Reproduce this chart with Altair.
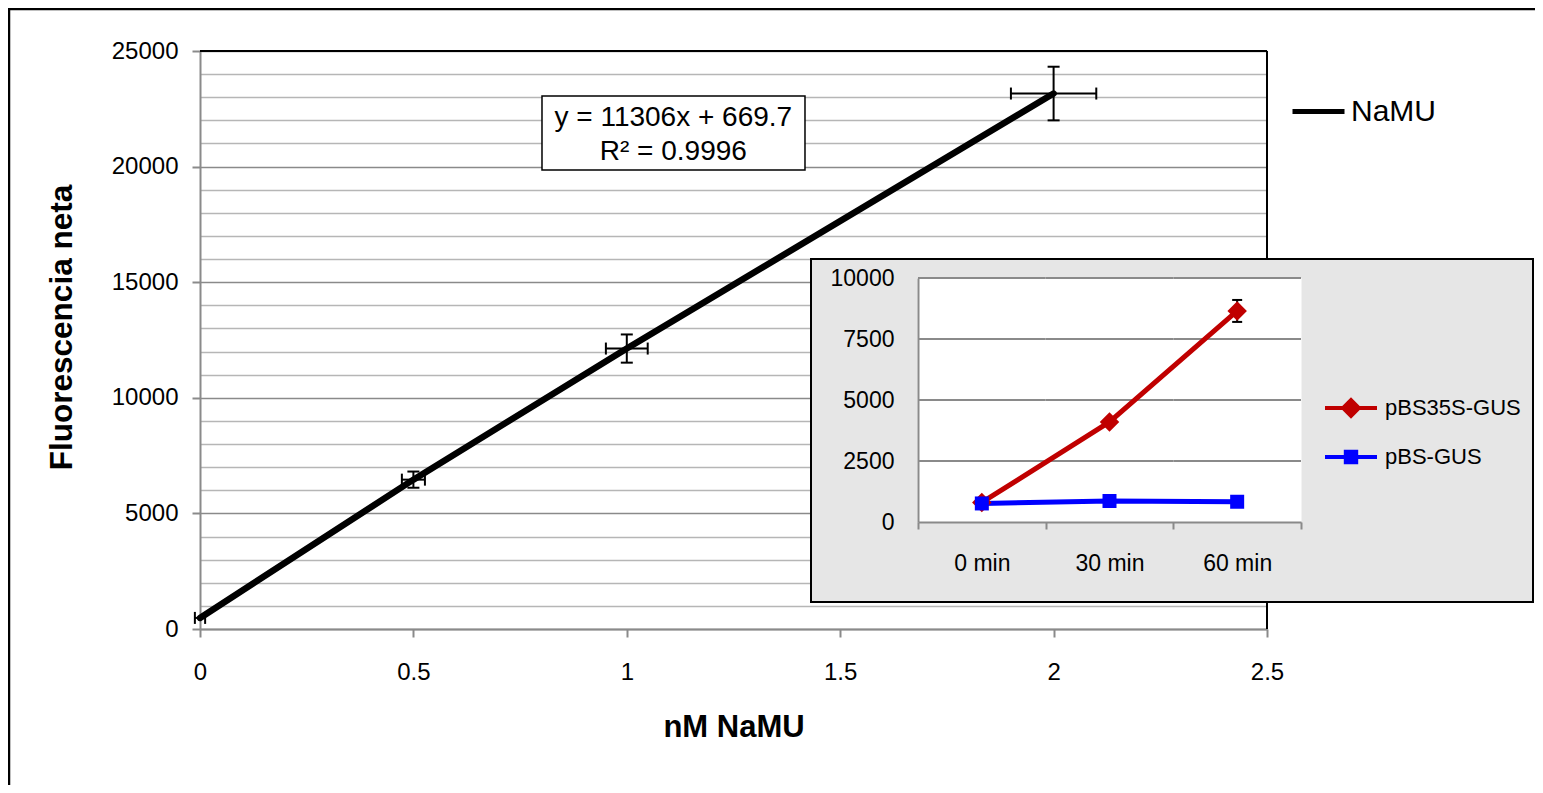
import altair as alt
import pandas as pd
import itertools

FONT = "Liberation Sans"
RED = "#c00000"
BLUE = "#0000ff"
GRID_MINOR = "#b6b6b6"
GRID_MAJOR = "#8a8a8a"

# ---------------- data: main chart ----------------
nm = [0.0, 0.5, 1.0, 2.0]
fluorescence = [480, 6460, 12130, 23160]
fluorescence_err = [0, 350, 610, 1160]
nm_err = [0.012, 0.027, 0.049, 0.10]
main_series = "NaMU"
equation = "y = 11306x + 669.7"
r_squared = "R² = 0.9996"
x_ticks = [0, 0.5, 1, 1.5, 2, 2.5]
y_grid = list(range(0, 25001, 1000))

# ---------------- data: inset ----------------
times = ["0 min", "30 min", "60 min"]
series_names = ["pBS35S-GUS", "pBS-GUS"]
pbs35s = [800, 4100, 8650]
pbs35s_err = [0, 0, 450]
pbs = [760, 860, 830]
pbs_err = [0, 0, 0]
inset_ticks = [0, 2500, 5000, 7500, 10000]
inset_grid = [2500, 5000, 7500, 10000]

# ---------------- tables ----------------
main_df = pd.DataFrame({"nm": nm, "fluo": fluorescence,
                        "ferr": fluorescence_err, "xerr": nm_err})
main_df["ylo"] = main_df.fluo - main_df.ferr
main_df["yhi"] = main_df.fluo + main_df.ferr
main_df["xlo"] = main_df.nm - main_df.xerr
main_df["xhi"] = main_df.nm + main_df.xerr
main_df["series"] = main_series

rows = []
for name, vals, errs in [(series_names[0], pbs35s, pbs35s_err),
                         (series_names[1], pbs, pbs_err)]:
    for t, v, e in zip(times, vals, errs):
        rows.append(dict(time=t, series=name, value=v, err=e, lo=v - e, hi=v + e))
inset_df = pd.DataFrame(rows)
grid_df = pd.DataFrame(list(itertools.product(times, inset_grid)), columns=["time", "g"])
one = pd.DataFrame({"k": [0]})

# ---------------- scales ----------------
XS = alt.Scale(domain=[0, 2.5], nice=False, zero=False)
YS = alt.Scale(domain=[0, 25000], nice=False)
IXS = alt.Scale(domain=times, range=[718, 1101], paddingInner=0, paddingOuter=0)
IYS = alt.Scale(domain=[0, 10000], range=[471, 227], nice=False)

major = "datum.value % 5000 === 0"
x_axis = alt.Axis(values=x_ticks, format="~g", title="nM NaMU", labelFont=FONT,
                  labelFontSize=24, labelColor="black", labelPadding=35,
                  labelBaseline="middle", labelFlush=False, tickSize=8, tickWidth=2,
                  tickColor=GRID_MAJOR, domainColor=GRID_MAJOR, domainWidth=2, grid=False,
                  titleFont=FONT, titleFontSize=31, titleFontWeight="bold",
                  titleColor="black", titleY=98, titleBaseline="middle")
y_axis = alt.Axis(values=y_grid, format="d",
                  labelExpr=f"{major} ? datum.label : ''", labelOverlap=False,
                  labelFont=FONT, labelFontSize=24, labelColor="black", labelPadding=14,
                  tickSize=8, tickWidth=2, tickColor=GRID_MAJOR,
                  tickOpacity={"condition": {"test": major, "value": 1}, "value": 0},
                  grid=True, gridWidth=1.5,
                  gridColor={"condition": {"test": major, "value": GRID_MAJOR}, "value": GRID_MINOR},
                  domainColor=GRID_MAJOR, domainWidth=2,
                  title="Fluorescencia neta", titleFont=FONT, titleFontSize=31.5,
                  titleFontWeight="bold", titleColor="black", titleX=-138, titleY=276,
                  titleAngle=270, titleAlign="center", titleBaseline="middle")

ix_axis = alt.Axis(orient="bottom", offset=-107, title=None, labelFont=FONT,
                   labelFontSize=23, labelColor="black", labelPadding=34,
                   labelBaseline="middle", labelAngle=0, tickBand="extent", tickSize=7,
                   tickWidth=2, tickColor=GRID_MAJOR, domainColor=GRID_MAJOR,
                   domainWidth=2, grid=False, zindex=1)
iy_axis = alt.Axis(orient="left", offset=-718, title=None, values=inset_ticks, format="d",
                   labelFont=FONT, labelFontSize=23, labelColor="black", labelPadding=24,
                   ticks=False, domainColor=GRID_MAJOR, domainWidth=2, grid=False,
                   zindex=1, labelOverlap=False)

# every layer carries the same axis definitions so they merge cleanly
X = lambda f: alt.X(f, scale=XS, axis=x_axis, title="nM NaMU")
Y = lambda f: alt.Y(f, scale=YS, axis=y_axis, title="Fluorescencia neta")
XD = lambda v: alt.X(datum=v, scale=XS, axis=x_axis, title="nM NaMU")
YD = lambda v: alt.Y(datum=v, scale=YS, axis=y_axis, title="Fluorescencia neta")

# ---------------- main chart ----------------
base = alt.Chart(main_df)

line = base.mark_line(strokeWidth=6.5, strokeCap="round", strokeJoin="round").encode(
    x=X("nm:Q"), y=Y("fluo:Q"),
    stroke=alt.Stroke("series:N", scale=alt.Scale(domain=[main_series], range=["black"]),
                      legend=alt.Legend(orient="none", legendX=1090, legendY=32, title=None,
                                        symbolType="stroke", symbolSize=2704,
                                        symbolStrokeWidth=5, labelFont=FONT,
                                        labelFontSize=30, labelColor="black",
                                        labelOffset=4, padding=0)))
vbar = base.transform_filter("datum.ferr > 0").mark_rule(strokeWidth=2, color="black").encode(
    x=X("nm:Q"), y=Y("ylo:Q"), y2="yhi:Q")
vcap = base.transform_filter("datum.ferr > 0").transform_fold(
    ["ylo", "yhi"], as_=["k", "capy"]).mark_tick(
    orient="horizontal", size=12, thickness=2, color="black", opacity=1).encode(
    x=X("nm:Q"), y=Y("capy:Q"))
hbar = base.mark_rule(strokeWidth=2, color="black").encode(
    x=X("xlo:Q"), x2="xhi:Q", y=Y("fluo:Q"))
hcap = base.transform_fold(["xlo", "xhi"], as_=["k", "capx"]).mark_tick(
    orient="vertical", size=12, thickness=2, color="black", opacity=1).encode(
    x=X("capx:Q"), y=Y("fluo:Q"))

top_border = alt.Chart(one).mark_rule(color="black", strokeWidth=2).encode(
    x=XD(0), x2=alt.X2(datum=2.5), y=YD(25000))
right_border = alt.Chart(one).mark_rule(color="black", strokeWidth=2).encode(
    x=XD(2.5), y=YD(0), y2=alt.Y2(datum=25000))

eq_box = alt.Chart(one).mark_rect(fill="white", stroke="black", strokeWidth=1.5).encode(
    x=XD(0.8013), x2=alt.X2(datum=1.4175), y=YD(23053), y2=alt.Y2(datum=19853))
eq_txt1 = alt.Chart(one).mark_text(text=equation, font=FONT, fontSize=28, color="black",
                                   align="center", baseline="middle").encode(
    x=XD(1.109), y=YD(22102))
eq_txt2 = alt.Chart(one).mark_text(text=r_squared, font=FONT, fontSize=28, color="black",
                                   align="center", baseline="middle").encode(
    x=XD(1.109), y=YD(20631))

frame_left = alt.Chart(one).mark_rule(color="black", strokeWidth=2.5).encode(
    x=alt.value(-191), y=alt.value(-44), y2=alt.value(800))
frame_top = alt.Chart(one).mark_rule(color="black", strokeWidth=2.5).encode(
    x=alt.value(-192), x2=alt.value(1335), y=alt.value(-42))

main = alt.layer(line, vbar, vcap, hbar, hcap, top_border, right_border,
                 eq_box, eq_txt1, eq_txt2, frame_left, frame_top)

# ---------------- inset ----------------
COLOR_SCALE = alt.Scale(domain=series_names, range=[RED, BLUE])
PATH_D = "M-1,0L1,0M-0.3,0L0,-0.3L0.3,0L0,0.3Z"
PATH_S = "M-1,0L1,0M-0.2,-0.2L0.2,-0.2L0.2,0.2L-0.2,0.2Z"
SHAPE_SCALE = alt.Scale(domain=series_names, range=[PATH_D, PATH_S])
LEG = alt.Legend(orient="none", legendX=1123, legendY=329, title=None, labelFont=FONT,
                 labelFontSize=22, labelColor="black", symbolSize=2704,
                 symbolStrokeWidth=4, symbolOpacity=1, labelOffset=6, rowPadding=5,
                 padding=0)
IX = lambda: alt.X("time:N", scale=IXS, axis=ix_axis, sort=times, title=None)
IY = lambda f: alt.Y(f, scale=IYS, axis=iy_axis, title=None)
IYD = lambda v: alt.Y(datum=v, scale=IYS, axis=iy_axis, title=None)
COLOR = lambda: alt.Color("series:N", scale=COLOR_SCALE, legend=LEG)

inset_box = alt.Chart(one).mark_rect(fill="#e6e6e6", stroke="black", strokeWidth=2).encode(
    x=alt.value(611), x2=alt.value(1333), y=alt.value(208), y2=alt.value(551))
inset_bg = alt.Chart(pd.DataFrame({"time": times})).mark_rect(
    fill="white", stroke="white", strokeWidth=1).encode(
    x=IX(), y=IYD(10000), y2=alt.Y2(datum=0))
inset_gridlines = alt.Chart(grid_df).mark_rect(
    fill="white", fillOpacity=0, stroke=GRID_MAJOR, strokeWidth=2).encode(
    x=IX(), y=IY("g:Q"), y2="g:Q")
inset_lines = alt.Chart(inset_df).mark_line(strokeWidth=5).encode(
    x=IX(), y=IY("value:Q"), color=COLOR())
inset_err = alt.Chart(inset_df).transform_filter("datum.err > 0").mark_rule(
    strokeWidth=2, color="black").encode(x=IX(), y=IY("lo:Q"), y2="hi:Q")
inset_caps = alt.Chart(inset_df).transform_filter("datum.err > 0").transform_fold(
    ["lo", "hi"], as_=["k", "capy"]).mark_tick(
    orient="horizontal", size=10, thickness=2, color="black", opacity=1).encode(
    x=IX(), y=IY("capy:Q"))
pts_red = alt.Chart(inset_df).transform_filter(
    alt.datum.series == series_names[0]).mark_point(
    shape="diamond", filled=True, size=380, opacity=1).encode(
    x=IX(), y=IY("value:Q"), color=COLOR())
pts_blue = alt.Chart(inset_df).transform_filter(
    alt.datum.series == series_names[1]).mark_point(
    shape="square", filled=True, size=196, opacity=1).encode(
    x=IX(), y=IY("value:Q"), color=COLOR())
legend_layer = alt.Chart(inset_df).transform_filter("false").mark_point(
    filled=True, opacity=1).encode(
    x=IX(), y=IY("value:Q"), color=COLOR(),
    shape=alt.Shape("series:N", scale=SHAPE_SCALE, legend=LEG))

inset = alt.layer(inset_box, inset_bg, inset_gridlines, inset_lines, inset_err,
                  inset_caps, pts_red, pts_blue, legend_layer)

chart = alt.layer(main, inset).resolve_scale(
    x="independent", y="independent", stroke="independent"
).properties(
    width=1067, height=578,
    padding={"left": 192, "top": 43, "right": 268, "bottom": 156},
    autosize=alt.AutoSizeParams(type="none"),
    background="white",
).configure_view(strokeWidth=0)

chart.save("out.html", embed_options={"renderer": "svg", "actions": False})
